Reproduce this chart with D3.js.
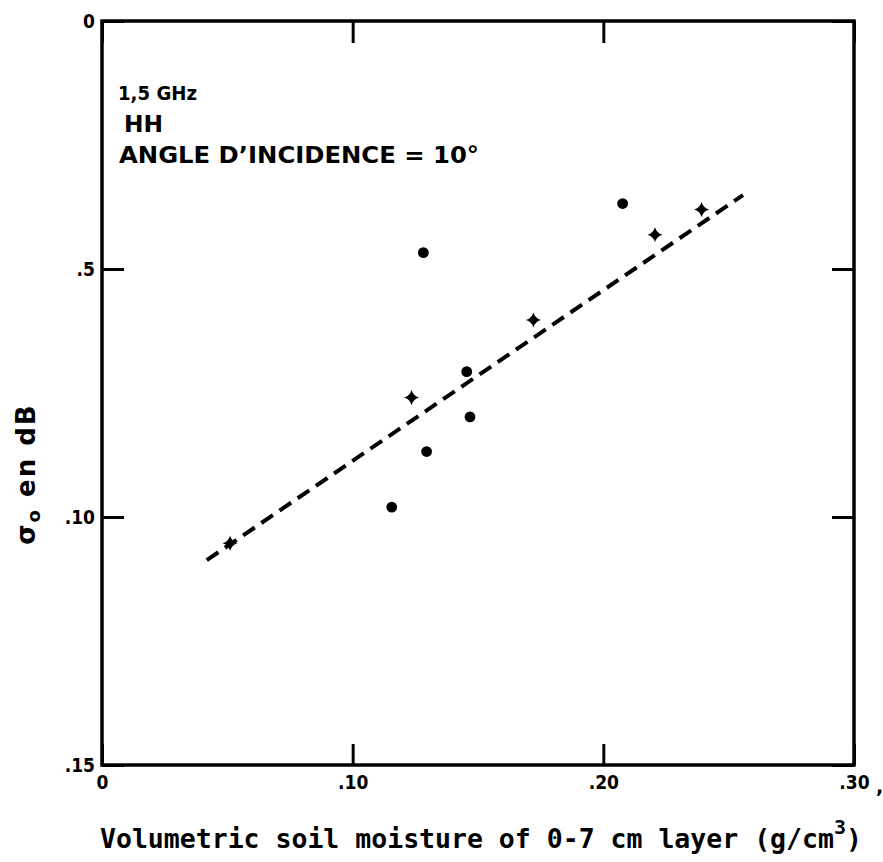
<!DOCTYPE html>
<html>
<head>
<meta charset="utf-8">
<script src="https://cdn.jsdelivr.net/npm/d3@7"></script>
<style>
  html, body { margin: 0; padding: 0; background: #fff; }
  svg { display: block; }
</style>
</head>
<body>
<svg id="chart" width="883" height="862"></svg>
<script>
// Axis ticks and their printed labels
const xTicks = [0, 0.1, 0.2, 0.3];
const xTickLabels = ["0", ".10", ".20", ".30"];
const yTicks = [0, -5, -10, -15];
const yTickLabels = ["0", ".5", ".10", ".15"];

// Backscatter observations (soil moisture g/cm3, sigma in dB), circles
const dotX = [0.1282, 0.2077, 0.1455, 0.1468, 0.1295, 0.1156];
const dotY = [-4.67, -3.68, -7.07, -7.98, -8.68, -9.80];

// Backscatter observations, star markers
const starX = [0.0511, 0.1235, 0.1721, 0.2206, 0.2392];
const starY = [-10.53, -7.59, -6.03, -4.31, -3.80];

// Fitted regression line end points
const fitX = [0.0418, 0.2557];
const fitY = [-10.87, -3.51];

const annotationLines = ["1,5 GHz", "HH", "ANGLE D\u2019INCIDENCE = 10\u00B0"];

const svg = d3.select("#chart");
const plotLeft = 102, plotRight = 854, plotTop = 21, plotBottom = 765;

const x = d3.scaleLinear().domain([0, 0.3]).range([plotLeft, plotRight]);
const y = d3.scaleLinear().domain([0, -15]).range([plotTop, plotBottom]);

const tickFont = "'DejaVu Sans', 'Liberation Sans', sans-serif";

// Bottom axis: inward ticks plus labels
const gBottom = svg.append("g")
  .attr("transform", `translate(0,${plotBottom})`)
  .call(d3.axisBottom(x).tickValues(xTicks)
    .tickFormat((d, i) => xTickLabels[i])
    .tickSize(-21).tickPadding(11));

// Top axis: inward ticks only
const gTop = svg.append("g")
  .attr("transform", `translate(0,${plotTop})`)
  .call(d3.axisTop(x).tickValues(xTicks).tickFormat("").tickSize(-22));

// Left axis: inward ticks plus labels
const gLeft = svg.append("g")
  .attr("transform", `translate(${plotLeft},0)`)
  .call(d3.axisLeft(y).tickValues(yTicks)
    .tickFormat((d, i) => yTickLabels[i])
    .tickSize(-22).tickPadding(7));

// Right axis: inward ticks only
const gRight = svg.append("g")
  .attr("transform", `translate(${plotRight},0)`)
  .call(d3.axisRight(y).tickValues(yTicks).tickFormat("").tickSize(-22));

[gBottom, gTop, gLeft, gRight].forEach(g => {
  g.select(".domain").remove();
  g.selectAll(".tick line").attr("stroke", "#000").attr("stroke-width", 3);
  g.selectAll(".tick text")
    .attr("fill", "#000")
    .style("font-family", tickFont)
    .style("font-weight", "bold")
    .style("font-stretch", "condensed")
    .style("font-size", "19px");
});

// Trailing mark after the last x label
svg.append("text")
  .attr("x", x(0.3) + 22).attr("y", plotBottom + 28)
  .style("font-family", tickFont).style("font-weight", "bold")
  .style("font-size", "19px")
  .text(",");

// Frame
svg.append("rect")
  .attr("x", plotLeft).attr("y", plotTop)
  .attr("width", plotRight - plotLeft).attr("height", plotBottom - plotTop)
  .attr("fill", "none").attr("stroke", "#000").attr("stroke-width", 3.5);

// Regression line
svg.append("line")
  .attr("x1", x(fitX[0])).attr("y1", y(fitY[0]))
  .attr("x2", x(fitX[1])).attr("y2", y(fitY[1]))
  .attr("stroke", "#000").attr("stroke-width", 4)
  .attr("stroke-dasharray", "14,8");

// Circle markers
svg.append("g").selectAll("circle")
  .data(d3.range(dotX.length))
  .join("circle")
  .attr("cx", i => x(dotX[i]))
  .attr("cy", i => y(dotY[i]))
  .attr("r", 5.4)
  .attr("fill", "#000");

// Four-pointed star markers
const star = "M0,-7.5 Q1.7,-1.7 7.5,0 Q1.7,1.7 0,7.5 Q-1.7,1.7 -7.5,0 Q-1.7,-1.7 0,-7.5Z";
svg.append("g").selectAll("path")
  .data(d3.range(starX.length))
  .join("path")
  .attr("d", star)
  .attr("transform", i => `translate(${x(starX[i])},${y(starY[i])})`)
  .attr("fill", "#000");

// Measurement conditions
const annFont = "'DejaVu Sans', 'Liberation Sans', sans-serif";
const ann = [
  { t: annotationLines[0], x: 118, y: 100, size: 20, len: 79 },
  { t: annotationLines[1], x: 124, y: 132, size: 23, len: 39 },
  { t: annotationLines[2], x: 119, y: 163, size: 23, len: 360 }
];
svg.append("g").selectAll("text")
  .data(ann)
  .join("text")
  .attr("x", d => d.x).attr("y", d => d.y)
  .attr("textLength", d => d.len)
  .attr("lengthAdjust", "spacingAndGlyphs")
  .style("font-family", annFont)
  .style("font-weight", "bold")
  .style("font-size", d => d.size + "px")
  .text(d => d.t);

// Y axis title
const yTitle = svg.append("text")
  .attr("transform", "translate(35,474) rotate(-90)")
  .attr("text-anchor", "middle")
  .style("font-family", annFont)
  .style("font-weight", "bold")
  .style("letter-spacing", "2px")
  .style("font-size", "26px");
yTitle.append("tspan").text("\u03C3");
yTitle.append("tspan").attr("dy", 5).style("font-size", "18px").text("o");
yTitle.append("tspan").attr("dy", -5).text(" en dB");

// X axis title
const xTitle = svg.append("text")
  .attr("x", 100).attr("y", 848)
  .style("font-family", "'DejaVu Sans Mono', 'Liberation Mono', monospace")
  .style("font-weight", "bold")
  .style("font-size", "26.5px");
xTitle.append("tspan").text("Volumetric soil moisture of 0-7 cm layer (g/cm");
xTitle.append("tspan").attr("dy", -14).style("font-size", "20px").text("3");
xTitle.append("tspan").attr("dy", 14).text(")");
</script>
</body>
</html>
